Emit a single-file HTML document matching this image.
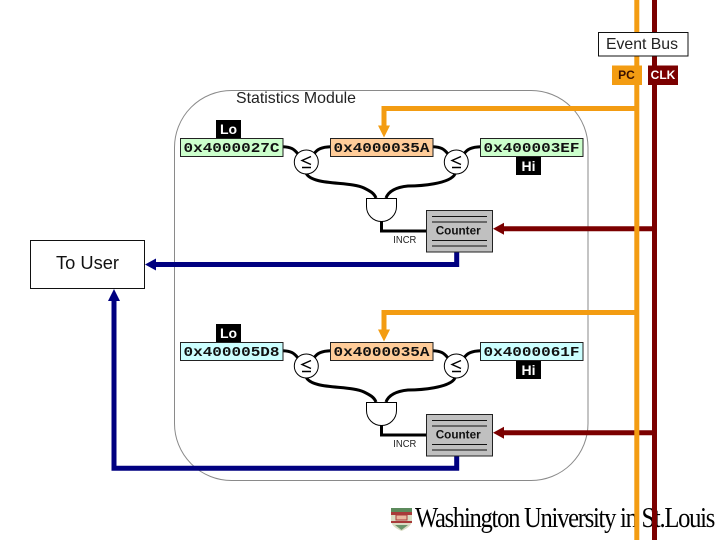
<!DOCTYPE html>
<html>
<head>
<meta charset="utf-8">
<style>
html,body{margin:0;padding:0;background:#fff;}
svg{display:block;}
.sans{font-family:"Liberation Sans",sans-serif;}
.mono{font-family:"Liberation Mono",monospace;font-weight:bold;font-size:14px;fill:#111;}
.tag{font-family:"Liberation Sans",sans-serif;font-weight:bold;font-size:14px;fill:#fff;text-anchor:middle;}
.wire{fill:none;stroke:#000;stroke-width:3;}
</style>
</head>
<body>
<svg width="720" height="540" viewBox="0 0 720 540" xmlns="http://www.w3.org/2000/svg">
<defs>
<g id="unit">
  <path d="M636 108.5H384V127" fill="none" stroke="#f39c12" stroke-width="5"/>
  <path d="M378 125.500H390L384 137.500Z" fill="#f39c12"/>
  <path class="wire" d="M283 146.700C291 147 294 149 298 154"/>
  <path class="wire" d="M330.500 146.700C322 147 317 149 314 154"/>
  <path class="wire" d="M433 146.700C441 147 444 149 448 154"/>
  <path class="wire" d="M480.500 146.700C472 147 467 149 464 154"/>
  <path class="wire" d="M306 173C312 186 350 181 364 188C370 191 374 193 376 198"/>
  <path class="wire" d="M455 174C450 184 420 186 408 186C398 187 389 190 386 198"/>
  <circle cx="306.300" cy="162" r="12" fill="#fff" stroke="#000" stroke-width="1"/>
  <circle cx="456.300" cy="162" r="12" fill="#fff" stroke="#000" stroke-width="1"/>
  <path d="M311 156.500L302 160.500L311 164.500M302 167.500H311" fill="none" stroke="#000" stroke-width="1.400"/>
  <path d="M461 156.500L452 160.500L461 164.500M452 167.500H461" fill="none" stroke="#000" stroke-width="1.400"/>
  <path d="M381.500 221V231H427" fill="none" stroke="#000" stroke-width="3"/>
  <path d="M366.500 198.500H396.500V206.500A15 15 0 0 1 366.500 206.500Z" fill="#fff" stroke="#000" stroke-width="1"/>
  <text class="sans" x="393.300" y="243" font-size="10" fill="#222" textLength="23" lengthAdjust="spacingAndGlyphs">INCR</text>
  <rect x="426.500" y="210.500" width="66" height="41.500" fill="#c0c0c0" stroke="#222" stroke-width="1"/>
  <path d="M432 216.500H487M432 222H487M432 240.500H487M432 246H487" stroke="#111" stroke-width="1" fill="none"/>
  <text class="sans" x="435.700" y="234.500" font-size="12" font-weight="bold" fill="#111" textLength="45" lengthAdjust="spacingAndGlyphs">Counter</text>
  <path d="M654 228.700H503" stroke="#7b0000" stroke-width="5" fill="none"/>
  <path d="M493 228.700L504 222.700V234.700Z" fill="#7b0000"/>
  <rect x="330.500" y="138.500" width="102.500" height="18" fill="#ffcc99" stroke="#222" stroke-width="1"/>
  <text class="mono" x="333.500" y="152" textLength="96" lengthAdjust="spacingAndGlyphs">0x4000035A</text>
</g>
</defs>

<rect x="174.500" y="90.500" width="413.500" height="390" rx="57" ry="57" fill="#fff" stroke="#8a8a8a" stroke-width="1"/>
<text class="sans" x="236" y="103" font-size="16" fill="#222" textLength="120" lengthAdjust="spacingAndGlyphs">Statistics Module</text>

<path d="M391 508H412V520C412 526 406 529 401.500 531C397 529 391 526 391 520Z" fill="#d9dcc4"/>
<rect x="391" y="508" width="21" height="4" fill="#5c8a5c"/>
<rect x="391" y="512" width="21" height="3" fill="#a83a3a"/>
<rect x="396" y="515" width="11" height="5" fill="#e8b8a0" stroke="#a83a3a" stroke-width="1"/>
<rect x="391" y="521" width="21" height="2" fill="#a83a3a"/>
<path d="M395 525H408L401.500 530Z" fill="#6b946b"/>
<text x="415" y="527" font-family="'Liberation Serif',serif" font-size="29" letter-spacing="-1.500" fill="#000" textLength="299" lengthAdjust="spacingAndGlyphs">Washington University in St.Louis</text>

<path d="M456.700 252V264.500H155" fill="none" stroke="#000080" stroke-width="5"/>
<path d="M145 264.500L156 258.500V270.500Z" fill="#000080"/>
<path d="M456.700 456V468.300H114V300" fill="none" stroke="#000080" stroke-width="5"/>
<path d="M114 289L120 301H108Z" fill="#000080"/>

<use href="#unit"/>
<use href="#unit" transform="translate(0,204)"/>

<rect x="216" y="120" width="25" height="18.500" fill="#000"/>
<text class="tag" x="228.500" y="134">Lo</text>
<rect x="180.500" y="138.500" width="102.500" height="18" fill="#ccffcc" stroke="#222" stroke-width="1"/>
<text class="mono" x="183.500" y="152" textLength="96" lengthAdjust="spacingAndGlyphs">0x4000027C</text>
<rect x="480.500" y="138.500" width="102.500" height="18" fill="#ccffcc" stroke="#222" stroke-width="1"/>
<text class="mono" x="483.500" y="152" textLength="96" lengthAdjust="spacingAndGlyphs">0x400003EF</text>
<rect x="516" y="157" width="25" height="18" fill="#000"/>
<text class="tag" x="528.500" y="171">Hi</text>

<rect x="216" y="324" width="25" height="18.500" fill="#000"/>
<text class="tag" x="228.500" y="338">Lo</text>
<rect x="180.500" y="342.500" width="102.500" height="18" fill="#ccffff" stroke="#222" stroke-width="1"/>
<text class="mono" x="183.500" y="356" textLength="96" lengthAdjust="spacingAndGlyphs">0x400005D8</text>
<rect x="480.500" y="342.500" width="102.500" height="18" fill="#ccffff" stroke="#222" stroke-width="1"/>
<text class="mono" x="483.500" y="356" textLength="96" lengthAdjust="spacingAndGlyphs">0x4000061F</text>
<rect x="516" y="361" width="25" height="18" fill="#000"/>
<text class="tag" x="528.500" y="375">Hi</text>

<rect x="30.500" y="240.500" width="114" height="48" fill="#fff" stroke="#111" stroke-width="1"/>
<text class="sans" x="56" y="269" font-size="18" fill="#111" textLength="63" lengthAdjust="spacingAndGlyphs">To User</text>

<rect x="634.300" y="0" width="5" height="540" fill="#f39c12"/>
<rect x="652" y="0" width="5" height="540" fill="#7b0000"/>

<rect x="598.500" y="32.500" width="89.500" height="23.500" fill="#fff" stroke="#111" stroke-width="1"/>
<text class="sans" x="606" y="49" font-size="16" fill="#222" textLength="72" lengthAdjust="spacingAndGlyphs">Event Bus</text>
<rect x="612" y="65.500" width="30" height="19.500" fill="#f39c12"/>
<text class="sans" x="626.500" y="79" font-size="12" font-weight="bold" fill="#3a1000" text-anchor="middle">PC</text>
<rect x="648" y="65.500" width="30" height="19.500" fill="#7b0000"/>
<text class="sans" x="663" y="79" font-size="12" font-weight="bold" fill="#fff" text-anchor="middle">CLK</text>
</svg>
</body>
</html>
